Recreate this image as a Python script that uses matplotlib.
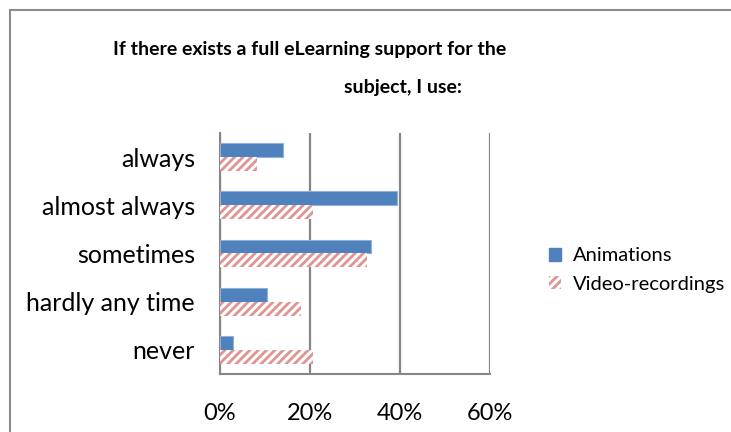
import matplotlib
matplotlib.use("Agg")
import matplotlib.pyplot as plt
from matplotlib.patches import Patch, Rectangle
import numpy as np

categories = ["always", "almost always", "sometimes", "hardly any time", "never"]
animations = [13.9, 39.4, 33.6, 10.4, 2.8]
video_recordings = [8.2, 20.6, 32.6, 18.0, 20.6]
xticks = [0, 20, 40, 60]
xtick_labels = ["0%", "20%", "40%", "60%"]

plt.rcParams["font.family"] = ["Lato", "DejaVu Sans"]
plt.rcParams["hatch.linewidth"] = 2.0

W, H = 731, 432
fig = plt.figure(figsize=(W / 100, H / 100), dpi=100)
fig.patch.set_facecolor("white")

# chart frame
fig.add_artist(Rectangle((10 / W, -0.05), 1.2, (H - 10) / H + 0.05,
                         transform=fig.transFigure, fill=False,
                         edgecolor="#8c8c8c", linewidth=1.5))

ax = fig.add_axes([220 / W, 58 / H, 270 / W, 241 / H])

y = np.arange(len(categories))
h = 0.29
ax.barh(y - h / 2, animations, height=h, color="#4F81BD",
        edgecolor="#8EB0DA", linewidth=0.8, label="Animations", zorder=3)
ax.barh(y + h / 2, video_recordings, height=h, color="white",
        edgecolor="#DE9492", linewidth=0, hatch="////",
        label="Video-recordings", zorder=3)

ax.set_ylim(len(categories) - 0.5, -0.5)
ax.set_xlim(0, 60)
ax.set_yticks(y)
ax.set_yticklabels(categories, fontsize=18)
ax.set_xticks(xticks)
ax.set_xticklabels(xtick_labels, fontsize=17)
ax.tick_params(length=0)
ax.tick_params(axis="y", pad=18)
ax.tick_params(axis="x", pad=21)
ax.xaxis.grid(True, color="#868686", linewidth=1.6, zorder=0)
for s in ["top", "right"]:
    ax.spines[s].set_visible(False)
for s in ["left", "bottom"]:
    ax.spines[s].set_color("#868686")
    ax.spines[s].set_linewidth(1.5)

fig.text(310 / W, 1 - 49 / H, "If there exists a full eLearning support for the",
         ha="center", va="center", fontsize=14, fontweight="bold")
fig.text(403 / W, 1 - 87 / H, "subject, I use:",
         ha="center", va="center", fontsize=14, fontweight="bold")

handles = [Patch(facecolor="#4F81BD", edgecolor="#4F81BD"),
           Patch(facecolor="white", edgecolor="#DE9492", linewidth=0, hatch="////")]
fig.legend(handles, ["Animations", "Video-recordings"], loc="center left",
           bbox_to_anchor=(531 / W, 1 - 270 / H), frameon=False, fontsize=14.5,
           handlelength=0.6, handleheight=0.6, handletextpad=0.6,
           labelspacing=0.55)

fig.savefig("out.png", dpi=100)
